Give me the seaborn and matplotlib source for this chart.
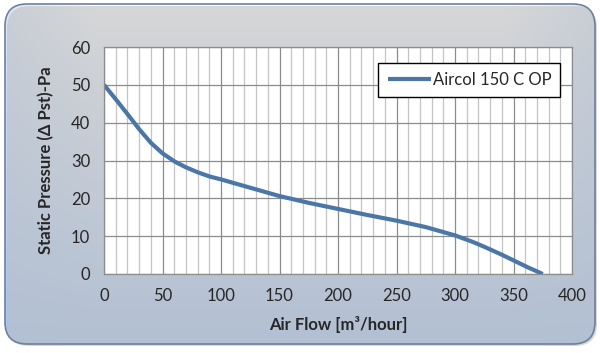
import numpy as np
import pandas as pd
import seaborn as sns
import matplotlib.pyplot as plt
from matplotlib.patches import FancyBboxPatch
from matplotlib.ticker import MultipleLocator

# curve
air_flow = [0, 10, 20, 30, 40, 50, 60, 70, 80, 90, 100, 125, 150, 175, 200,
            225, 250, 275, 300, 315, 325, 340, 350, 362, 375]
pressure = [50, 46.2, 42.3, 38.3, 34.7, 31.9, 29.8, 28.2, 26.9, 25.8, 25, 22.8, 20.6,
            18.8, 17.2, 15.6, 14.1, 12.4, 10.2, 8.5, 7.2, 5.1, 3.6, 1.8, 0]
series_name = "Aircol 150 C OP"

df = pd.DataFrame({"flow": air_flow, "pressure": pressure, "model": series_name})

sns.set_style("white")
plt.rcParams["font.family"] = ["Lato", "DejaVu Sans"]

fig = plt.figure(figsize=(6, 3.53), dpi=100)
fig.patch.set_facecolor("white")

# rounded gradient background
bg = fig.add_axes([0, 0, 1, 1], zorder=-5)
bg.set_xlim(0, 600)
bg.set_ylim(353, 0)
bg.axis("off")
yy, xx = np.mgrid[0:353, 0:600]
tv = np.clip((yy - 5) / 340.0, 0, 1) ** 0.9
edge = np.clip(1 - np.minimum(xx - 5, 595 - xx) / 90.0, 0, 1)
t = np.clip(tv + 0.35 * edge * (1 - tv), 0, 1)
top = np.array([0.99, 0.995, 1.0])
bot = np.array([0.64, 0.77, 0.96])
img = top[None, None, :] * (1 - t[..., None]) + bot[None, None, :] * t[..., None]
shadow = FancyBboxPatch((7, 6), 590, 340, boxstyle="round,pad=0,rounding_size=22",
                        fc="#bdbdbd", ec="none", alpha=0.6)
bg.add_patch(shadow)
box = FancyBboxPatch((5, 4), 590, 340, boxstyle="round,pad=0,rounding_size=22",
                     fc="none", ec="#6f7f9c", lw=1.2)
bg.add_patch(box)
im = bg.imshow(img, extent=(0, 600, 353, 0), aspect="auto")
im.set_clip_path(box)

ax = fig.add_axes([104 / 600, 1 - 274 / 353, 468 / 600, 227 / 353])
ax.set_facecolor("white")
sns.lineplot(data=df, x="flow", y="pressure", hue="model", palette=["#4a76a8"],
             linewidth=3, ax=ax, solid_joinstyle="round", solid_capstyle="butt")

ax.set_xlim(0, 400)
ax.set_ylim(0, 60)
ax.xaxis.set_major_locator(MultipleLocator(50))
ax.xaxis.set_minor_locator(MultipleLocator(10))
ax.yaxis.set_major_locator(MultipleLocator(10))
ax.grid(which="minor", axis="x", color="#c4c4c4", lw=0.9)
ax.grid(which="major", axis="x", color="#8c8c8c", lw=0.9)
ax.grid(which="major", axis="y", color="#8c8c8c", lw=0.9)
ax.set_axisbelow(True)
for s in ax.spines.values():
    s.set_color("#8c8c8c")
    s.set_linewidth(0.9)
ax.tick_params(axis="both", which="major", length=4, color="#8c8c8c", labelsize=12, pad=6)
ax.tick_params(axis="both", which="minor", length=0)

ax.set_xlabel("Air Flow [m³/hour]", fontsize=12, fontweight="bold", labelpad=9)
ax.set_ylabel("Static Pressure (Δ Pst)-Pa", fontsize=12, fontweight="bold", labelpad=12)

leg = ax.legend(loc="upper right", bbox_to_anchor=(0.975, 0.93), fontsize=12,
                frameon=True, fancybox=False, handlelength=2.6, borderpad=0.55,
                handletextpad=0.1, borderaxespad=0)
leg.get_frame().set_edgecolor("black")
leg.get_frame().set_linewidth(1.0)
leg.get_frame().set_alpha(1)

fig.savefig("out.png", dpi=100)
